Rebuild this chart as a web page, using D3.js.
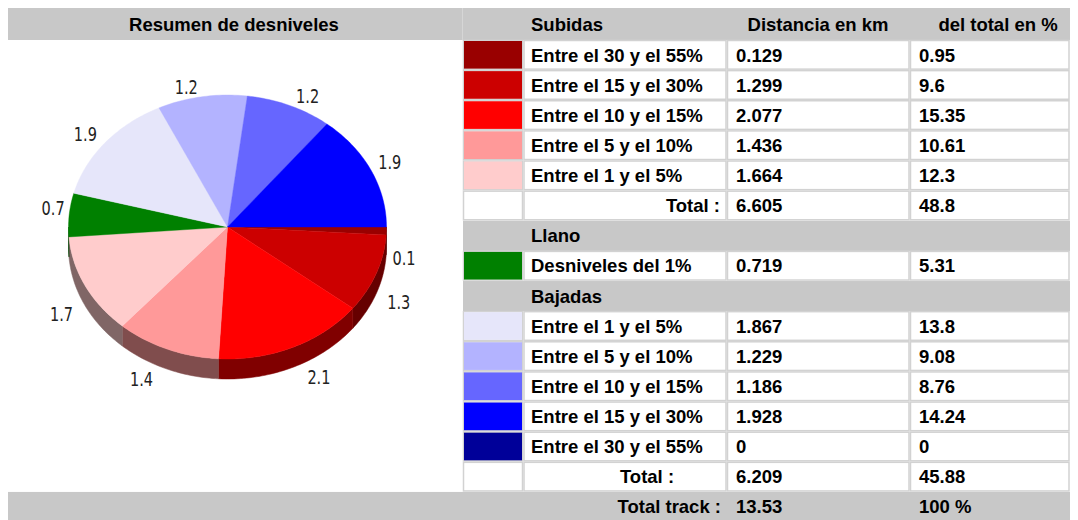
<!DOCTYPE html>
<html>
<head>
<meta charset="utf-8">
<script src="https://cdn.jsdelivr.net/npm/d3@7"></script>
<style>
  html, body { margin: 0; padding: 0; background: #ffffff; }
  svg { display: block; }
</style>
</head>
<body>
<svg id="chart" width="1078" height="520"></svg>
<script>
// ---------------- data ----------------
const headerLeft = "Resumen de desniveles";
const headerCols = ["Subidas", "Distancia en km", "del total en %"];

const subidasLabels = ["Entre el 30 y el 55%", "Entre el 15 y el 30%", "Entre el 10 y el 15%", "Entre el 5 y el 10%", "Entre el 1 y el 5%"];
const subidasKm = [0.129, 1.299, 2.077, 1.436, 1.664];
const subidasPct = ["0.95", "9.6", "15.35", "10.61", "12.3"];
const subidasColors = ["#990000", "#cc0000", "#ff0000", "#ff9999", "#ffcccc"];
const subidasTotal = ["6.605", "48.8"];

const llanoTitle = "Llano";
const llanoLabels = ["Desniveles del 1%"];
const llanoKm = [0.719];
const llanoPct = ["5.31"];
const llanoColors = ["#008000"];

const bajadasTitle = "Bajadas";
const bajadasLabels = ["Entre el 1 y el 5%", "Entre el 5 y el 10%", "Entre el 10 y el 15%", "Entre el 15 y el 30%", "Entre el 30 y el 55%"];
const bajadasKm = [1.867, 1.229, 1.186, 1.928, 0];
const bajadasPct = ["13.8", "9.08", "8.76", "14.24", "0"];
const bajadasColors = ["#e6e6fa", "#b3b3ff", "#6666ff", "#0000ff", "#000099"];
const bajadasTotal = ["6.209", "45.88"];

const trackTotal = ["13.53", "100 %"];
const totalLabel = "Total :";
const trackLabel = "Total track :";

// ---------------- layout ----------------
const svg = d3.select("#chart");
const GRAY = "#c8c8c8";
const LINE = "#d2d2d2";
const FONT = "'Liberation Sans', Arial, Helvetica, sans-serif";
const FS = "18.5px";

const colX = [463, 523.5, 727, 910, 1070]; // swatch | label | km | pct | end
const tableTop = 40, rowH = 30.13;
const nRows = 15;
const yRow = d3.scaleLinear().domain([0, nRows]).range([tableTop, tableTop + rowH * nRows]);

// header band
svg.append("rect").attr("x", 8).attr("y", 8).attr("width", 1062).attr("height", 32).attr("fill", GRAY);
svg.append("line").attr("x1", 462.5).attr("x2", 462.5).attr("y1", 8).attr("y2", 40).attr("stroke", "#d6d6d6").attr("stroke-width", 1);
svg.append("text").attr("x", 234).attr("y", 30.5).attr("text-anchor", "middle")
  .attr("font-family", FONT).attr("font-size", FS).attr("font-weight", "bold").text(headerLeft);
svg.append("text").attr("x", 531).attr("y", 30.5)
  .attr("font-family", FONT).attr("font-size", FS).attr("font-weight", "bold").text(headerCols[0]);
svg.append("text").attr("x", 818).attr("y", 30.5).attr("text-anchor", "middle")
  .attr("font-family", FONT).attr("font-size", FS).attr("font-weight", "bold").text(headerCols[1]);
svg.append("text").attr("x", 998).attr("y", 30.5).attr("text-anchor", "middle")
  .attr("font-family", FONT).attr("font-size", FS).attr("font-weight", "bold").text(headerCols[2]);

// build row list
const rows = [];
subidasLabels.forEach((l, i) => rows.push({type: "data", color: subidasColors[i], label: l, km: String(subidasKm[i]), pct: subidasPct[i]}));
rows.push({type: "total1", km: subidasTotal[0], pct: subidasTotal[1]});
rows.push({type: "section", label: llanoTitle});
llanoLabels.forEach((l, i) => rows.push({type: "data", color: llanoColors[i], label: l, km: String(llanoKm[i]), pct: llanoPct[i]}));
rows.push({type: "section", label: bajadasTitle});
bajadasLabels.forEach((l, i) => rows.push({type: "data", color: bajadasColors[i], label: l, km: String(bajadasKm[i]), pct: bajadasPct[i]}));
rows.push({type: "total2", km: bajadasTotal[0], pct: bajadasTotal[1]});

const g = svg.append("g");
rows.forEach((r, i) => {
  const y0 = yRow(i), y1 = yRow(i + 1), yc = (y0 + y1) / 2, base = yc + 6.5;
  if (r.type === "section") {
    g.append("rect").attr("x", colX[0]).attr("y", y0).attr("width", colX[4] - colX[0]).attr("height", y1 - y0).attr("fill", GRAY);
    g.append("text").attr("x", 531).attr("y", base).attr("font-family", FONT).attr("font-size", FS)
      .attr("font-weight", "bold").text(r.label);
    return;
  }
  for (let c = 0; c < 4; c++) {
    g.append("rect").attr("x", colX[c] + 0.5).attr("y", y0 + 0.5)
      .attr("width", colX[c + 1] - colX[c] - 1.5).attr("height", y1 - y0 - 1.5)
      .attr("fill", "#ffffff").attr("stroke", LINE).attr("stroke-width", 1.5);
  }
  if (r.type === "data") {
    g.append("rect").attr("x", colX[0] + 1).attr("y", y0 + 1).attr("width", colX[1] - colX[0] - 2.5).attr("height", y1 - y0 - 2.5)
      .attr("fill", r.color);
    g.append("text").attr("x", 531).attr("y", base).attr("font-family", FONT).attr("font-size", FS)
      .attr("font-weight", "bold").text(r.label);
  } else if (r.type === "total1") {
    g.append("text").attr("x", 720).attr("y", base).attr("text-anchor", "end").attr("font-family", FONT).attr("font-size", FS)
      .attr("font-weight", "bold").text(totalLabel);
  } else if (r.type === "total2") {
    g.append("text").attr("x", 647).attr("y", base).attr("text-anchor", "middle").attr("font-family", FONT).attr("font-size", FS)
      .attr("font-weight", "bold").text(totalLabel);
  }
  g.append("text").attr("x", 736).attr("y", base).attr("font-family", FONT).attr("font-size", FS)
    .attr("font-weight", "bold").text(r.km);
  g.append("text").attr("x", 919).attr("y", base).attr("font-family", FONT).attr("font-size", FS)
    .attr("font-weight", "bold").text(r.pct);
});

// total track band
const yT = yRow(nRows);
svg.append("rect").attr("x", 8).attr("y", yT).attr("width", 1062).attr("height", 32).attr("fill", GRAY);
svg.append("text").attr("x", 721).attr("y", yT + 21.5).attr("text-anchor", "end").attr("font-family", FONT).attr("font-size", FS)
  .attr("font-weight", "bold").text(trackLabel);
svg.append("text").attr("x", 736).attr("y", yT + 21.5).attr("font-family", FONT).attr("font-size", FS)
  .attr("font-weight", "bold").text(trackTotal[0]);
svg.append("text").attr("x", 919).attr("y", yT + 21.5).attr("font-family", FONT).attr("font-size", FS)
  .attr("font-weight", "bold").text(trackTotal[1]);

// ---------------- 3D pie ----------------
const pieValues = subidasKm.concat(llanoKm, bajadasKm);
const pieColors = subidasColors.concat(llanoColors, bajadasColors);
const cx = 227.5, cy = 227, rx = 159, ry = 132, depth = 20;

const arcs = d3.pie().sort(null).startAngle(Math.PI / 2).endAngle(Math.PI / 2 + 2 * Math.PI)(pieValues);
const px = a => cx + rx * Math.sin(a);
const py = a => cy - ry * Math.cos(a);

const pg = svg.append("g");
// side walls (front half)
arcs.forEach((d, i) => {
  const a0 = Math.max(d.startAngle, Math.PI / 2), a1 = Math.min(d.endAngle, 3 * Math.PI / 2);
  if (a1 <= a0) return;
  const n = Math.max(2, Math.ceil((a1 - a0) / 0.02));
  const top = d3.range(n + 1).map(k => a0 + (a1 - a0) * k / n);
  const pts = top.map(a => [px(a), py(a)]).concat(top.slice().reverse().map(a => [px(a), py(a) + depth]));
  const c = d3.color(pieColors[i]);
  const dark = d3.rgb(c.r * 0.5, c.g * 0.5, c.b * 0.5);
  pg.append("path").attr("d", "M" + pts.map(p => p.join(",")).join("L") + "Z")
    .attr("fill", dark).attr("stroke", dark).attr("stroke-width", 0.5);
});
// top faces
arcs.forEach((d, i) => {
  if (d.endAngle - d.startAngle <= 0) return;
  const n = Math.max(2, Math.ceil((d.endAngle - d.startAngle) / 0.02));
  const pts = [[cx, cy]].concat(d3.range(n + 1).map(k => {
    const a = d.startAngle + (d.endAngle - d.startAngle) * k / n;
    return [px(a), py(a)];
  }));
  pg.append("path").attr("d", "M" + pts.map(p => p.join(",")).join("L") + "Z")
    .attr("fill", pieColors[i]).attr("stroke", pieColors[i]).attr("stroke-width", 0.4);
});
// labels
const fmt = d3.format(".1f");
arcs.forEach((d, i) => {
  if (d.value <= 0) return;
  const a = (d.startAngle + d.endAngle) / 2;
  const cosT = Math.sin(a), sinT = -Math.cos(a);
  const front = sinT > 0;
  const B = front ? 4 + 18 * Math.abs(sinT) : 2 + 12 * Math.abs(sinT);
  const lx = cx + 172 * cosT + Math.sign(cosT) * B;
  const ly = cy + 135.5 * sinT + (front ? 27 : -6);
  pg.append("text")
    .attr("transform", `translate(${lx},${ly}) scale(0.85,1)`)
    .attr("text-anchor", "middle").attr("dy", "0.36em")
    .attr("font-family", "'DejaVu Sans Condensed', 'DejaVu Sans', sans-serif").attr("font-size", "19px")
    .attr("fill", "#222222").text(fmt(d.value));
});
</script>
</body>
</html>
